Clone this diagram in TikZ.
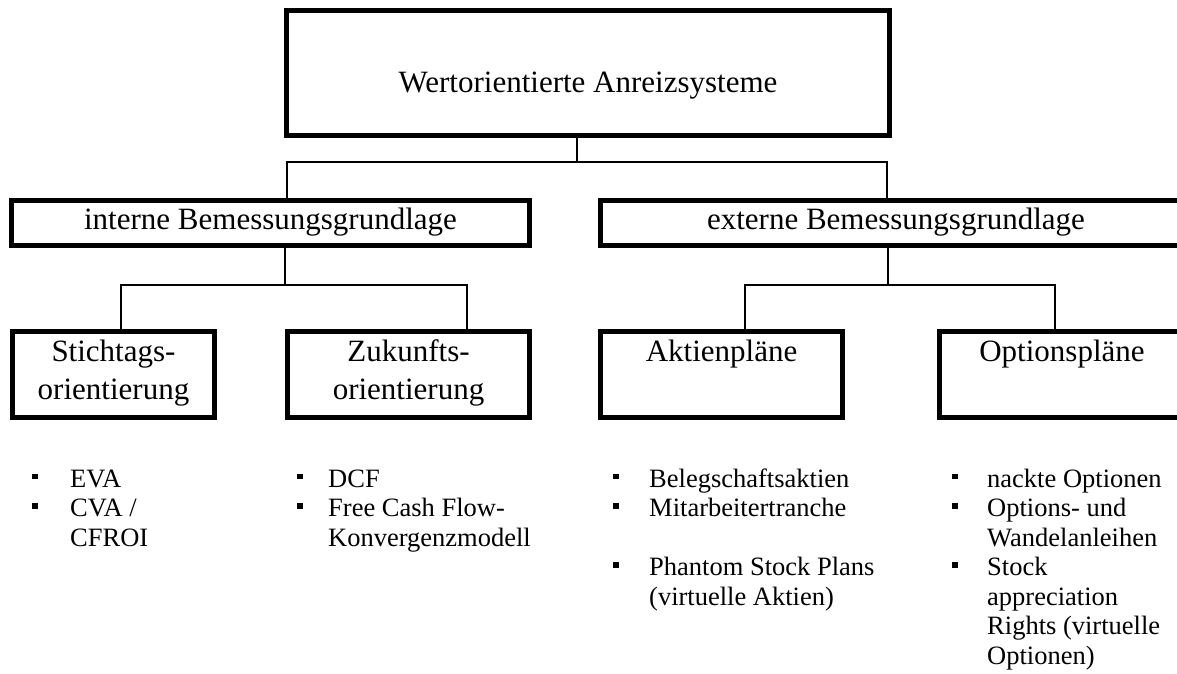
\documentclass[tikz,border=0pt]{standalone}
\usepackage{fontspec}
\setmainfont{Liberation Serif}
\newcommand\atbase[2]{\raisebox{#1}[0pt][0pt]{#2}}
\newcommand\bulsq{\rule[8pt]{5.5pt}{5.5pt}}
\newcommand\bul[1]{\llap{\bulsq\hspace{#1}}}
\begin{document}
\begin{tikzpicture}[x=1pt,y=-1pt,
  bx/.style={draw, line width=5pt, inner sep=0pt, outer sep=0pt, rectangle, font=\fontsize{31}{38}\selectfont},
  conn/.style={line width=1.3pt},
  listtext/.style={font=\fontsize{26.5}{29.5}\selectfont, anchor=base west, inner sep=0pt}]
\useasboundingbox (0,0) rectangle (1177,673);

% boxes
\node[bx, minimum width=603pt, minimum height=125pt] (top) at (588,73) {\atbase{-19pt}{Wertorientierte Anreizsysteme}};
\node[bx, minimum width=518pt, minimum height=45pt] (intern) at (270.5,223) {\atbase{-6pt}{interne Bemessungsgrundlage}};
\node[bx, minimum width=591pt, minimum height=45pt] (extern) at (896,223) {\atbase{-6pt}{externe Bemessungsgrundlage}};
\node[bx, minimum width=202pt, minimum height=86pt] (stich) at (113.5,374.5) {\atbase{13.5pt}{\begin{tabular}[t]{@{}c@{}}Stichtags-\\orientierung\end{tabular}}};
\node[bx, minimum width=242pt, minimum height=86pt] (zuk) at (408.5,374.5) {\atbase{13.5pt}{\begin{tabular}[t]{@{}c@{}}Zukunfts-\\orientierung\end{tabular}}};
\node[bx, minimum width=242pt, minimum height=86pt] (aktien) at (721.5,374.5) {\atbase{13.5pt}{Aktienpläne}};
\node[bx, minimum width=245pt, minimum height=86pt] (opt) at (1062,374.5) {\atbase{13.5pt}{Optionspläne}};

% connectors
\coordinate (tj) at (577,162);
\coordinate (tl) at (287,162);
\coordinate (tr) at (887,162);
\draw[conn] (top.south -| tj) -- (tj);
\draw[conn] (intern.north -| tl) -- (tl) -- (tr) -- (extern.north -| tr);

\coordinate (ij) at (285,285);
\coordinate (il) at (121,285);
\coordinate (ir) at (467,285);
\draw[conn] (intern.south -| ij) -- (ij);
\draw[conn] (stich.north -| il) -- (il) -- (ir) -- (zuk.north -| ir);

\coordinate (ej) at (888,285);
\coordinate (el) at (745,285);
\coordinate (er) at (1055,285);
\draw[conn] (extern.south -| ej) -- (ej);
\draw[conn] (aktien.north -| el) -- (el) -- (er) -- (opt.north -| er);

% bullet lists
\node[listtext] (l1) at (70,487) {\begin{tabular}[t]{@{}l@{}}\bul{32.5pt}EVA\\ \bul{32.5pt}CVA /\\CFROI\end{tabular}};
\node[listtext] (l2) at (328,487) {\begin{tabular}[t]{@{}l@{}}\bul{25.5pt}DCF\\ \bul{25.5pt}Free Cash Flow-\\Konvergenzmodell\end{tabular}};
\node[listtext] (l3) at (649,487) {\begin{tabular}[t]{@{}l@{}}\bul{30.5pt}Belegschaftsaktien\\ \bul{30.5pt}Mitarbeitertranche\\ \\ \bul{30.5pt}Phantom Stock Plans\\(virtuelle Aktien)\end{tabular}};
\node[listtext] (l4) at (987,487) {\begin{tabular}[t]{@{}l@{}}\bul{29.5pt}nackte Optionen\\ \bul{29.5pt}Options- und\\Wandelanleihen\\ \bul{29.5pt}Stock\\appreciation\\Rights (virtuelle\\Optionen)\end{tabular}};
\end{tikzpicture}
\end{document}
